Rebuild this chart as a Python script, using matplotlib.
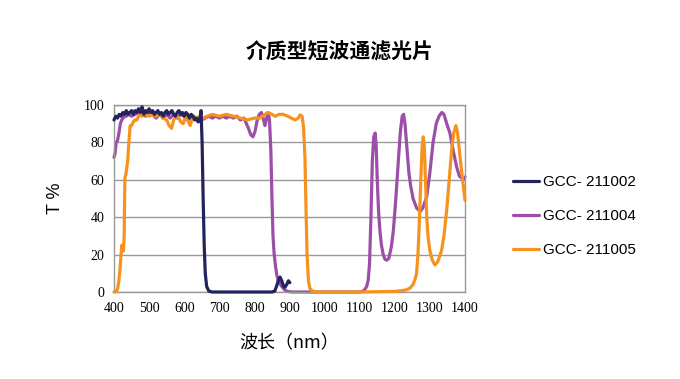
import matplotlib
matplotlib.use("Agg")
import matplotlib.pyplot as plt
import numpy as np

# GCC-211002 (navy)
wl_002 = [400, 405, 410, 415, 420, 425, 430, 435, 440, 445, 450, 455, 460, 465, 470, 475,
          480, 485, 490, 495, 500, 505, 510, 515, 520, 525, 530, 535, 540, 545, 550, 555,
          560, 565, 570, 575, 580, 585, 590, 595, 600, 605, 610, 615, 620, 625, 630, 635,
          640, 645, 648, 651, 654, 657, 660, 664, 670, 680, 750, 850, 858, 863, 868, 873,
          878, 883, 887, 892, 897, 901]
t_002 = [92, 94, 93, 95, 94, 96, 95, 97, 95, 96, 97, 95, 97, 96, 98, 96,
         99, 95, 97, 96, 98, 96, 97, 95, 96, 97, 95, 96, 94, 96, 97, 95,
         96, 97, 95, 94, 96, 97, 95, 96, 94, 96, 95, 93, 95, 94, 92, 93,
         91, 93, 97, 80, 50, 25, 10, 3, 0.5, 0, 0, 0, 0.5, 3, 6, 8,
         6, 3, 2.5, 4, 6, 5]

# GCC-211004 (purple)
wl_004 = [400, 403, 406, 410, 414, 418, 422, 426, 430, 435, 440, 450, 460, 470, 480, 490,
          500, 510, 520, 530, 540, 550, 560, 570, 580, 590, 600, 610, 620, 630, 640, 650,
          660, 670, 680, 690, 700, 710, 720, 730, 740, 750, 760, 770, 775, 782, 790, 796,
          802, 808, 814, 820, 825, 830, 835, 839, 843, 847, 850, 853, 856, 860, 864, 868,
          874, 880, 887, 895, 905, 1000, 1100, 1110, 1115, 1120, 1124, 1128, 1132, 1136, 1140, 1144,
          1147, 1150, 1154, 1158, 1162, 1167, 1172, 1177, 1183, 1190, 1196, 1203, 1210, 1216, 1221, 1225,
          1229, 1235, 1240, 1245, 1252, 1262, 1272, 1280, 1291, 1300, 1309, 1318, 1326, 1334, 1340, 1348,
          1357, 1366, 1376, 1384, 1390, 1395, 1400]
t_004 = [72, 74, 80, 81, 85, 90, 92, 93, 94, 94, 95, 94, 95, 96, 95, 94,
         96, 95, 93, 95, 93, 95, 93, 95, 93, 95, 94, 92, 94, 93, 91, 92,
         93, 94, 93, 94, 93, 94, 93, 94, 93, 94, 92, 93, 91, 88, 84, 83,
         86, 92, 95, 96, 93, 89, 93, 96, 92, 75, 50, 30, 21, 14, 9, 6,
         4, 2.5, 1, 0.3, 0, 0, 0, 0.5, 1.5, 3, 6, 15, 40, 70, 83, 85,
         78, 60, 42, 32, 25, 20, 17.5, 17, 18, 24, 33, 50, 70, 86, 94, 95,
         90, 76, 64, 57, 50, 45, 43, 45, 51, 64, 80, 90, 94, 96, 95, 90,
         85, 76, 67, 62, 61, 60, 61.5]

# GCC-211005 (orange)
wl_005 = [400, 405, 410, 414, 417, 420, 422, 425, 427, 429, 431, 434, 436, 439, 441, 444,
          446, 450, 455, 460, 465, 470, 475, 480, 490, 500, 510, 520, 530, 540, 550, 557,
          564, 570, 578, 585, 590, 597, 603, 608, 612, 617, 622, 628, 636, 645, 655, 665,
          680, 700, 720, 740, 760, 780, 800, 816, 830, 839, 850, 859, 870, 882, 895, 905,
          916, 925, 930, 936, 940, 944, 947, 950, 954, 958, 965, 980, 1100, 1200, 1230, 1243,
          1252, 1258, 1262, 1266, 1270, 1274, 1278, 1281, 1284, 1287, 1291, 1295, 1300, 1307, 1314, 1322,
          1333, 1340, 1348, 1355, 1362, 1368, 1374, 1379, 1386, 1393, 1400]
t_005 = [0, 0.3, 1.5, 6, 12, 20, 25, 24, 22, 30, 61, 63, 66, 70, 76, 84,
         89, 89, 91, 92, 92, 94, 95, 94, 95, 94, 95, 94, 95, 93, 92, 89,
         87.5, 92, 94, 93, 91, 90, 93, 94, 91, 89, 92, 94, 93, 94, 93, 94,
         95, 94, 95, 94, 93, 92, 93, 93, 95, 96, 95, 94, 95, 95, 94, 93,
         92, 93, 94.7, 94, 88, 72, 45, 20, 6, 2, 0.5, 0, 0, 0.3, 1, 2,
         4, 7, 10, 20, 38, 60, 78, 83, 78, 62, 40, 29, 22, 17, 14.5, 16,
         22, 30, 44, 60, 76, 85, 89, 85, 72, 60, 49]

labels = ["GCC- 211002", "GCC- 211004", "GCC- 211005"]
colors = ["#23235e", "#9b4fa8", "#f7921e"]
x_ticks = [400, 500, 600, 700, 800, 900, 1000, 1100, 1200, 1300, 1400]
y_ticks = [0, 20, 40, 60, 80, 100]

fig = plt.figure(figsize=(6.8, 3.79), dpi=100)
ax = fig.add_axes([114 / 680, 87 / 379, 351 / 680, 187 / 379])

lines = []
for wl, t, c, z in [(wl_002, t_002, colors[0], 4), (wl_004, t_004, colors[1], 2), (wl_005, t_005, colors[2], 3)]:
    ln, = ax.plot(wl, t, color=c, lw=2.3, zorder=z, clip_on=False, solid_capstyle="round")
    lines.append(ln)

ax.set_xlim(400, 1400)
ax.set_ylim(0, 100)
ax.set_xticks(x_ticks)
ax.set_yticks(y_ticks)
ax.grid(axis="y", color="#999999", lw=1)
ax.set_axisbelow(True)
for s in ax.spines.values():
    s.set_color("#999999")
    s.set_linewidth(1)
ax.tick_params(length=0, labelsize=10, pad=7)
for lab in ax.get_xticklabels() + ax.get_yticklabels():
    lab.set_family("Liberation Serif")

ax.set_xlabel("波长（nm）", family=["Noto Sans CJK SC", "DejaVu Sans"], fontsize=13, labelpad=14)
ax.set_ylabel("T %", family="Liberation Sans", fontsize=13, labelpad=14)
fig.suptitle("介质型短波通滤光片", family=["Noto Sans CJK SC", "DejaVu Sans"],
             fontsize=15, fontweight="bold", x=0.5, y=0.89)

fig.legend(lines, labels, loc="center left", bbox_to_anchor=(499 / 680, 1 - 216 / 379),
           frameon=False, prop={"family": "Liberation Sans", "size": 11},
           handlelength=1.75, handletextpad=0.25, labelspacing=1.3)

fig.savefig("out.png", dpi=100)
